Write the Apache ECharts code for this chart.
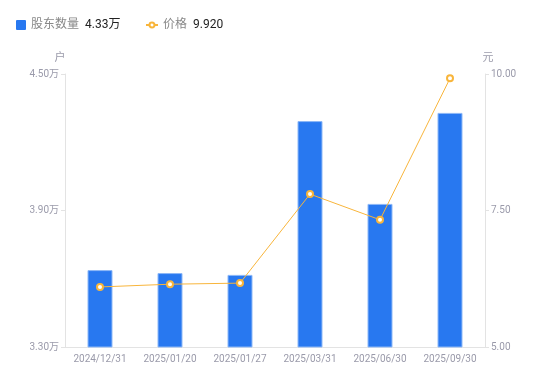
<!DOCTYPE html>
<html><head><meta charset="utf-8">
<script src="https://cdn.jsdelivr.net/npm/echarts@6/dist/echarts.min.js"></script>
<style>html,body{margin:0;padding:0;background:#fff}#c{width:550px;height:381px}</style>
</head><body><div id="c"></div>
<script>
const categories = ['2024/12/31','2025/01/20','2025/01/27','2025/03/31','2025/06/30','2025/09/30'];
const holders = [3.638, 3.625, 3.617, 4.293, 3.929, 4.329]; // 万户
const prices = [6.10, 6.15, 6.17, 7.80, 7.33, 9.92]; // 元
const leftTicks = {min: 3.30, max: 4.50, interval: 0.60};
const rightTicks = {min: 5, max: 10, interval: 2.5};

const chart = echarts.init(document.getElementById('c'), null, {renderer: 'canvas'});
const fontFamily = 'Roboto, "Noto Sans CJK SC", sans-serif';
const legendText = {fontSize: 12, color: '#333', rich: {n: {color: '#888', fontSize: 12}, v: {color: '#222', fontSize: 12, padding: [0,0,0,6]}}};
chart.setOption({
  animation: false,
  textStyle: {fontFamily},
  legend: [{
    left: 11, top: 14, itemWidth: 10, itemHeight: 10, itemGap: 5,
    textStyle: legendText,
    itemStyle: {borderWidth: 0},
    formatter: () => '{n|股东数量}{v|' + holders[holders.length-1].toFixed(2) + '万}',
    data: [{name: '股东数量', icon: 'path://M1,0h8a1,1 0 0 1 1,1v8a1,1 0 0 1 -1,1h-8a1,1 0 0 1 -1,-1v-8a1,1 0 0 1 1,-1z'}]
  }, {
    left: 140, top: 14, itemWidth: 12, itemHeight: 10, itemGap: 5,
    textStyle: legendText,
    formatter: () => '{n|价格}{v|' + prices[prices.length-1].toFixed(3) + '}',
    data: [{name: '价格', icon: 'path://M0,5h3.5a2.5,2.5 0 1 1 0,0.01zM8.5,5h3.5'}]
  }],
  grid: {left: 65, right: 65, top: 74, bottom: 34},
  xAxis: {
    type: 'category', data: categories,
    axisLine: {lineStyle: {color: '#e3e3e3'}},
    axisTick: {show: false},
    axisLabel: {color: '#9a9aaa', fontSize: 10, margin: 7}
  },
  yAxis: [{
    type: 'value', name: '户', min: leftTicks.min, max: leftTicks.max, interval: leftTicks.interval,
    nameTextStyle: {color: '#9a9aaa', fontSize: 11, padding: [0, 10, 0, 0]},
    nameGap: 10,
    axisLine: {show: true, lineStyle: {color: '#e3e3e3'}},
    axisTick: {show: true, length: 4, lineStyle: {color: '#e3e3e3'}},
    splitLine: {show: false},
    axisLabel: {color: '#9a9aaa', fontSize: 10, margin: 6, formatter: v => v.toFixed(2) + '万'}
  }, {
    type: 'value', name: '元', min: rightTicks.min, max: rightTicks.max, interval: rightTicks.interval,
    nameTextStyle: {color: '#9a9aaa', fontSize: 11, padding: [0, 0, 0, 6]},
    nameGap: 10,
    axisLine: {show: true, lineStyle: {color: '#e3e3e3'}},
    axisTick: {show: true, length: 4, lineStyle: {color: '#e3e3e3'}},
    splitLine: {show: false},
    axisLabel: {color: '#9a9aaa', fontSize: 10, margin: 6, formatter: v => v.toFixed(2)}
  }],
  series: [{
    name: '股东数量', type: 'bar', data: holders, yAxisIndex: 0, barWidth: 25,
    itemStyle: {color: '#2878F0', borderColor: '#8db8f7', borderWidth: 1}
  }, {
    name: '价格', type: 'line', data: prices, yAxisIndex: 1,
    symbol: 'circle', symbolSize: 6,
    lineStyle: {color: '#F8B53B', width: 1},
    itemStyle: {color: '#fff', borderColor: '#F8B53B', borderWidth: 2}
  }]
});
</script>
</body></html>
